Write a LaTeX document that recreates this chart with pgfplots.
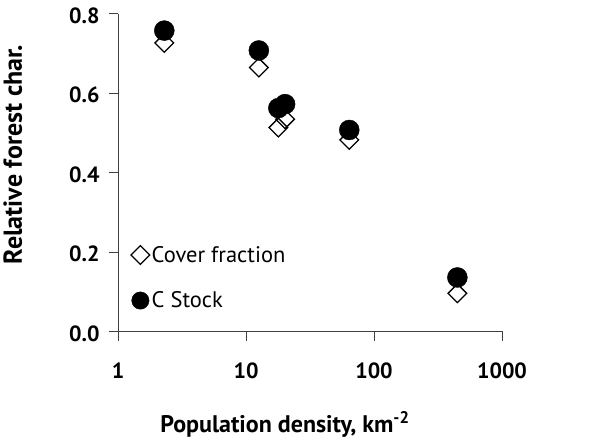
\documentclass[border=0pt]{standalone}
\usepackage{pgfplots}
\pgfplotsset{compat=1.18}
\usepackage{fontspec}
\setmainfont{PT Sans}
\begin{document}
\begin{tikzpicture}
\begin{axis}[
  scale only axis,
  width=384pt, height=318pt,
  xmode=log,
  xmin=1, xmax=1000,
  ymin=0, ymax=0.8,
  axis lines=left,
  axis line style={-, line width=0.8pt, black!75},
  tick style={line width=0.8pt, black!75},
  tick align=outside,
  major tick length=9pt,
  xtick={1,10,100,1000},
  xticklabels={1,10,100,1000},
  ytick={0,0.2,0.4,0.6,0.8},
  xminorticks=false, yminorticks=false,
  yticklabel style={/pgf/number format/fixed,/pgf/number format/fixed zerofill,/pgf/number format/precision=1},
  /pgf/number format/assume math mode=true,
  tick label style={font=\fontsize{22}{26}\selectfont\bfseries},
  xticklabel style={yshift=-19pt},
  yticklabel style={xshift=-6pt, yshift=-2pt},
  xlabel={Population density, km\textsuperscript{-2}},
  ylabel={Relative forest char.},
  xlabel style={font=\fontsize{24}{28}\selectfont\bfseries, yshift=-26pt, xshift=-25pt},
  ylabel style={font=\fontsize{26}{30}\selectfont\bfseries, yshift=40pt, xshift=18pt},
  legend style={at={(axis cs:1.26,0.220)}, anchor=north west, draw=none, fill=none,
    font=\fontsize{22.5}{26}\selectfont, row sep=24pt, inner sep=0pt},
  legend cell align=left,
  clip=false,
]
\addplot[only marks, mark=square, mark size=6.6pt, mark options={rotate=45, fill=white, draw=black, line width=1.3pt}]
  coordinates {(2.30,0.726) (12.6,0.664) (17.9,0.513) (20.2,0.534) (64.1,0.482) (448,0.096)};
\addlegendentry{Cover fraction}
\addplot[only marks, mark=*, mark size=10pt, mark options={fill=black, draw=black},
  legend image post style={mark size=8.7pt}]
  coordinates {(2.30,0.757) (12.6,0.707) (17.9,0.562) (20.2,0.572) (64.1,0.507) (448,0.136)};
\addlegendentry{C Stock}
\end{axis}
\path (-118pt,-100.5pt) rectangle (497pt,331.5pt);
\end{tikzpicture}
\end{document}
